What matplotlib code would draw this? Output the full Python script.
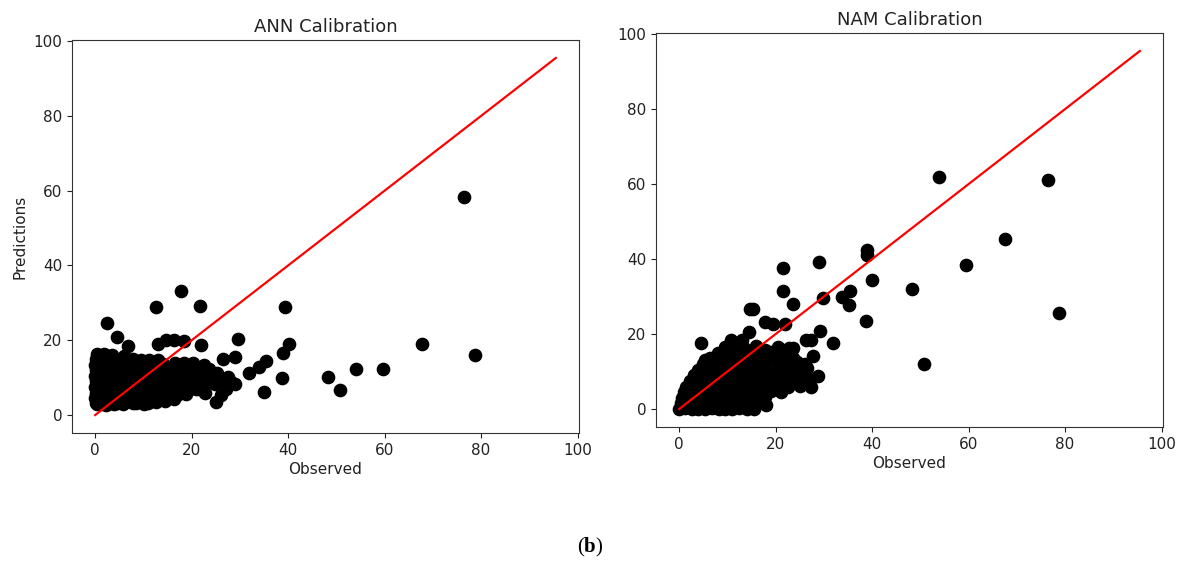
import matplotlib
matplotlib.use("Agg")
import matplotlib.pyplot as plt

# ---- data ----
# ANN calibration: (observed, predicted)
ann_obs = [
    0.1, 1.5, 3.0, 4.6, 6.2, 7.8, 9.3, 11.0, 12.7, 14.5, 16.3,
    0.0, 1.2, 2.6, 4.1, 5.5, 7.0, 8.6, 10.1, 11.8, 13.4, 15.1, 16.9, 18.8,
    0.2, 1.6, 3.1, 4.7, 6.3, 7.9, 9.4, 11.0, 12.6, 14.2, 15.8, 17.5, 19.3, 21.0,
    0.0, 1.3, 2.8, 4.3, 5.8, 7.4, 9.0, 10.5, 12.1, 13.8, 15.4, 17.0, 18.7, 20.4, 22.3, 24.8,
    0.1, 1.5, 3.0, 4.5, 6.1, 7.6, 9.2, 10.8, 12.4, 14.0, 15.6, 17.2, 18.9, 20.6, 22.4, 24.1, 26.0,
    0.0, 1.4, 2.9, 4.4, 6.0, 7.5, 9.1, 10.7, 12.3, 13.9, 15.5, 17.2, 19.0, 20.5, 23.0, 25.2,
    0.2, 1.6, 3.1, 4.6, 6.2, 7.8, 9.3, 10.9, 12.5, 14.0, 15.7, 17.4, 19.2, 21.0, 23.5,
    0.0, 1.4, 2.9, 4.5, 6.0, 7.6, 9.2, 10.8, 12.3, 14.0, 16.5, 18.4, 20.3, 22.6,
    0.1, 1.5, 3.1, 4.7, 6.3, 7.9, 9.5, 11.1, 13.0,
    0.3, 1.9, 3.4, 6.0,
    0.4, 2.2, 4.0, 5.7, 8.4, 10.2,
    17.8, 12.6, 21.8, 2.4, 4.5, 6.9, 39.3, 40.1, 39.0, 38.8, 29.7, 26.5, 29.0,
    35.1, 35.5, 33.9, 31.9, 22.0, 14.7, 16.4, 18.5, 13.0, 25.1, 26.1, 27.1,
    28.2, 28.9, 27.5, 21.5, 22.8, 76.5, 48.3, 50.7, 54.0, 59.6, 67.8, 78.8,
]
ann_pred = [
    3.2, 3.0, 3.3, 3.1, 3.4, 3.2, 3.5, 3.3, 3.6, 3.8, 4.2,
    4.5, 4.6, 4.4, 4.7, 4.5, 4.6, 4.8, 4.5, 4.7, 4.9, 5.0, 5.3, 5.6,
    6.0, 6.1, 5.9, 6.2, 6.0, 6.1, 5.9, 6.2, 6.0, 6.3, 6.1, 6.4, 6.6, 6.9,
    7.5, 7.6, 7.4, 7.7, 7.5, 7.6, 7.4, 7.7, 7.5, 7.8, 7.6, 7.7, 7.9, 7.6, 7.8, 8.2,
    9.0, 9.1, 8.9, 9.2, 9.0, 9.1, 8.9, 9.2, 9.0, 9.3, 9.1, 9.2, 9.0, 9.3, 9.1, 9.4, 9.6,
    10.5, 10.6, 10.4, 10.7, 10.5, 10.6, 10.4, 10.7, 10.5, 10.8, 10.6, 10.5, 10.9, 10.7, 10.6, 11.2,
    12.0, 12.1, 11.9, 12.2, 12.0, 12.1, 11.9, 12.2, 12.0, 12.3, 12.1, 12.4, 12.2, 12.6, 12.3,
    13.5, 13.6, 13.4, 13.7, 13.5, 13.6, 13.4, 13.7, 13.5, 13.6, 13.8, 14.0, 13.9, 13.5,
    15.0, 14.9, 15.1, 14.8, 15.0, 14.9, 14.7, 14.8, 14.6,
    16.2, 16.4, 16.0, 15.9,
    2.9, 2.8, 3.0, 2.9, 3.1, 3.0,
    33.1, 28.9, 29.2, 24.6, 21.0, 18.4, 28.9, 18.9, 16.7, 9.8, 20.3, 15.1, 15.6,
    6.2, 14.4, 12.9, 11.3, 18.7, 20.0, 20.2, 19.7, 19.1, 3.6, 5.3, 7.1,
    8.9, 8.4, 10.2, 7.0, 6.0, 58.2, 10.2, 6.7, 12.4, 12.2, 19.1, 16.0,
]

# NAM calibration: (observed, predicted)
nam_obs = [
    0.0, 1.3, 2.6, 4.0, 5.4, 6.8, 8.2, 9.6, 11.0, 12.5, 14.0, 15.6,
    0.3, 1.6, 3.0, 4.4, 5.8, 7.2, 8.7, 10.2, 11.7, 13.2, 14.8, 16.5,
    0.6, 2.0, 3.4, 4.9, 6.4, 7.9, 9.4, 11.0, 12.6, 14.2, 15.9, 17.8,
    1.0, 2.5, 4.0, 5.5, 7.0, 8.5, 10.1, 11.7, 13.4, 15.1, 16.9, 19.0, 21.2,
    1.5, 3.0, 4.5, 6.0, 7.6, 9.2, 10.8, 12.4, 14.1, 15.9, 17.9, 20.2, 22.6, 25.0, 27.3,
    2.2, 3.7, 5.2, 6.8, 8.4, 10.0, 11.7, 13.4, 15.2, 17.2, 19.5, 22.3, 24.6,
    3.0, 4.6, 6.1, 7.7, 9.3, 10.9, 12.6, 14.4, 16.4, 18.6, 22.0, 24.0,
    3.9, 5.5, 7.1, 8.7, 10.4, 12.1, 14.0, 16.0, 18.2, 23.0, 25.5,
    5.0, 6.6, 8.3, 10.0, 11.8, 13.6, 15.6, 17.8, 22.8, 26.0,
    6.3, 8.0, 9.8, 11.6, 13.4, 15.4, 17.5, 21.0, 23.5,
    8.0, 9.8, 11.6, 13.6, 15.4, 19.0, 21.5,
    9.5, 11.5, 13.5, 16.0, 20.5,
    24.5, 26.5, 25.0, 27.0, 21.5, 20.5, 19.5, 18.5, 17.0, 18.0,
    53.8, 76.5, 67.6, 59.4, 39.0, 39.0, 40.0, 48.2, 38.7, 50.7, 78.7,
    21.6, 29.0, 21.6, 23.5, 29.8, 33.7, 35.4, 35.2, 14.6, 15.3, 17.8, 19.4,
    22.0, 29.2, 4.6, 31.9, 26.3, 27.4, 28.8, 27.8, 5.4, 10.7, 13.0, 14.5,
    22.7, 23.6, 17.8,
]
nam_pred = [
    0.0, 0.2, 0.0, 0.1, 0.0, 0.2, 0.0, 0.1, 0.0, 0.2, 0.0, 0.1,
    1.5, 1.6, 1.4, 1.7, 1.5, 1.6, 1.4, 1.7, 1.5, 1.6, 1.4, 1.7,
    3.0, 3.1, 2.9, 3.2, 3.0, 3.1, 2.9, 3.2, 3.0, 3.1, 2.9, 3.2,
    4.5, 4.6, 4.4, 4.7, 4.5, 4.6, 4.4, 4.7, 4.5, 4.6, 4.4, 4.7, 4.5,
    6.0, 6.1, 5.9, 6.2, 6.0, 6.1, 5.9, 6.2, 6.0, 6.1, 5.9, 6.2, 6.0, 6.1, 5.9,
    7.5, 7.6, 7.4, 7.7, 7.5, 7.6, 7.4, 7.7, 7.5, 7.6, 7.4, 7.7, 7.5,
    9.0, 9.1, 8.9, 9.2, 9.0, 9.1, 8.9, 9.2, 9.0, 9.1, 8.9, 9.2,
    10.5, 10.6, 10.4, 10.7, 10.5, 10.6, 10.4, 10.7, 10.5, 10.6, 10.4,
    12.0, 12.1, 11.9, 12.2, 12.0, 12.1, 11.9, 12.2, 12.0, 12.1,
    13.5, 13.6, 13.4, 13.7, 13.5, 13.6, 13.4, 13.7, 13.5,
    15.0, 15.1, 14.9, 15.2, 15.0, 15.1, 14.9,
    16.5, 16.6, 16.4, 16.7, 16.5,
    12.5, 11.0, 9.0, 8.0, 10.0, 12.5, 9.5, 13.0, 2.5, 1.2,
    62.0, 61.2, 45.4, 38.5, 42.5, 41.0, 34.3, 31.9, 23.4, 11.9, 25.7,
    37.7, 39.2, 31.5, 28.1, 29.6, 30.0, 31.5, 27.7, 26.8, 26.8, 23.2, 22.6,
    22.8, 20.7, 17.6, 17.6, 18.4, 18.4, 8.8, 14.1, 13.0, 18.5, 18.5, 20.6,
    16.4, 16.4, 15.7,
]

# 1:1 reference line end points
line_ends = [0, 95.5]

panels = [
    ("ANN Calibration", ann_obs, ann_pred, [72 / 1182, 1 - 433 / 581, 507 / 1182, 393 / 581], True),
    ("NAM Calibration", nam_obs, nam_pred, [656 / 1182, 1 - 427 / 581, 507 / 1182, 394 / 581], False),
]

fig = plt.figure(figsize=(11.82, 5.81), dpi=100)
for title, obs, pred, pos, ylab in panels:
    ax = fig.add_axes(pos)
    ax.scatter(obs, pred, s=78, color="black", zorder=2)
    ax.plot(line_ends, line_ends, color="red", lw=1.6, zorder=3)
    ax.set_xlim(-4.8, 100.3)
    ax.set_ylim(-4.8, 100.3)
    ax.set_xticks([0, 20, 40, 60, 80, 100])
    ax.set_yticks([0, 20, 40, 60, 80, 100])
    ax.tick_params(labelsize=11, colors="#222222")
    ax.set_title(title, fontsize=13, color="#222222")
    ax.set_xlabel("Observed", fontsize=11, color="#222222", labelpad=3)
    if ylab:
        ax.set_ylabel("Predictions", fontsize=11, color="#222222")
    for sp in ax.spines.values():
        sp.set_color("#333333")

plt.rcParams["mathtext.fontset"] = "custom"
plt.rcParams["mathtext.rm"] = "Liberation Serif"
plt.rcParams["mathtext.bf"] = "Liberation Serif:bold"
fig.text(0.499, 0.057, r"($\mathbf{b}$)", family="Liberation Serif",
         fontsize=15, ha="center", va="center")

fig.savefig("out.png", dpi=100)
